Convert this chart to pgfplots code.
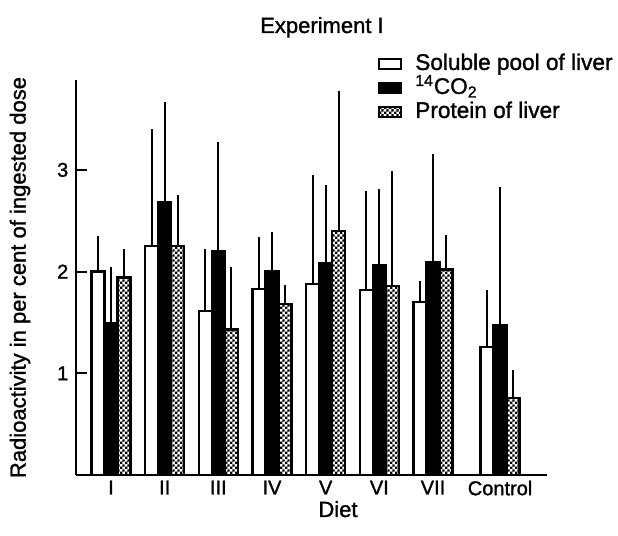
\documentclass[border=0pt]{standalone}
\usepackage{fontspec}
\setmainfont{Liberation Sans}[FakeBold=1.3]
\usepackage{pgfplots}
\usepackage{pgfplotstable}
\pgfplotsset{compat=1.18}
\usetikzlibrary{patterns.meta}
\pgfdeclarepattern{
  name=finecheck, type=uncolored,
  bottom left={\pgfpointorigin},
  top right={\pgfqpoint{2.4pt}{2.4pt}},
  tile size={\pgfqpoint{2.4pt}{2.4pt}},
  code={
    \pgfpathrectangle{\pgfpointorigin}{\pgfqpoint{1.2pt}{1.2pt}}
    \pgfpathrectangle{\pgfqpoint{1.2pt}{1.2pt}}{\pgfqpoint{1.2pt}{1.2pt}}
    \pgfusepath{fill}
  }
}

\pgfplotstableread{
x    white werr black berr prot perr
1    2.00  0.35 1.49  0.56 1.94 0.28
2    2.25  1.15 2.68  0.99 2.25 0.50
3    1.61  0.61 2.20  1.07 1.43 0.62
4    1.83  0.51 2.00  0.39 1.68 0.19
5    1.88  1.07 2.08  0.77 2.40 1.38
6    1.82  0.97 2.06  0.75 1.86 1.13
7    1.70  0.21 2.09  1.07 2.02 0.34
8.25 1.26  0.56 1.47  1.36 0.76 0.27
}\datatable

\begin{document}
\fontsize{11}{13}\selectfont
\begin{tikzpicture}
\begin{axis}[
  at={(0,0)}, anchor=south west,
  scale only axis, width=235.5pt, height=197.5pt,
  xmin=0.348, xmax=9.124, ymin=0, ymax=3.884,
  axis x line=bottom, axis y line=left,
  axis line style={-, line width=1.3pt},
  ybar=0pt, bar width=6.5pt,
  xtick={1,2,3,4,5,6,7,8.25},
  xticklabels={I,II,III,IV,V,VI,VII,Control},
  x tick style={draw=none},
  ytick={1,2,3},
  tick align=inside,
  major tick length=5.5pt,
  y tick style={line width=1pt, black},
  /pgf/number format/assume math mode=true,
  ticklabel style={font=\fontsize{10}{12}\selectfont},
  xticklabel style={yshift=1pt},
  legend style={draw=none, fill=none, at={(0.641,1.071)}, anchor=north west,
    inner sep=0pt, column sep=5.5pt, font=\fontsize{11.3}{12}\selectfont,
    nodes={text height=7.8pt, text depth=2.2pt, inner sep=1pt, anchor=west}},
  legend cell align=left,
  legend image code/.code={\draw[#1, line width=1pt] (0pt,-2.5pt) rectangle (11pt,2.5pt);},
]
\addplot[fill=white, draw=black, line width=1.2pt,
  error bars/.cd, y dir=plus, y explicit, error mark=none,
  error bar style={line width=1pt, black}]
  table[x=x, y=white, y error=werr] {\datatable};
\addlegendentry{Soluble pool of liver}
\addplot[fill=black, draw=black, line width=1.2pt,
  error bars/.cd, y dir=plus, y explicit, error mark=none,
  error bar style={line width=1pt, black}]
  table[x=x, y=black, y error=berr] {\datatable};
\addlegendentry{\textsuperscript{14}CO\textsubscript{2}}
\addplot[draw=black, line width=1.2pt, pattern=finecheck, pattern color=black,
  error bars/.cd, y dir=plus, y explicit, error mark=none,
  error bar style={line width=1pt, black}]
  table[x=x, y=prot, y error=perr] {\datatable};
\addlegendentry{Protein of liver}
\end{axis}
\node[anchor=base, font=\fontsize{11}{13}\selectfont] at (123pt,221pt) {Experiment I};
\node[anchor=base, font=\fontsize{11}{13}\selectfont] at (131pt,-21pt) {Diet};
\node[rotate=90, font=\fontsize{11}{13}\selectfont] at (-28pt,98.75pt) {Radioactivity in per cent of ingested dose};
\pgfresetboundingbox
\path[use as bounding box] (-38pt,-30.5pt) rectangle (271pt,237.5pt);
\end{tikzpicture}
\end{document}
